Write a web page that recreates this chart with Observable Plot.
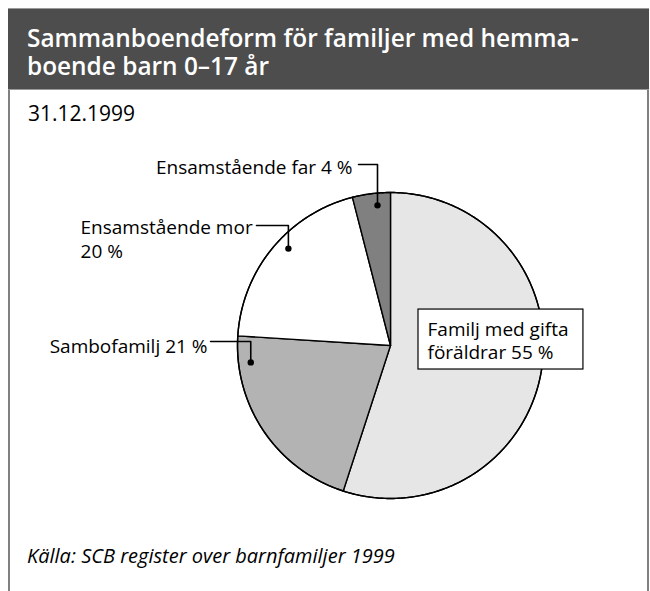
<!DOCTYPE html>
<html><head><meta charset="utf-8">
<script src="https://cdn.jsdelivr.net/npm/d3@7"></script>
<script src="https://cdn.jsdelivr.net/npm/@observablehq/plot@0.6"></script>
<style>
html,body{margin:0;padding:0;background:#fff;overflow:hidden;width:650px;height:591px;}
body{font-family:"Open Sans","Liberation Sans",Arial,sans-serif;color:#000;}
#frame{position:absolute;left:8px;top:8px;width:641px;height:620px;box-sizing:border-box;border-left:2px solid #808080;border-right:2px solid #808080;}
#bar{position:absolute;left:8px;top:8px;width:641px;height:82px;box-sizing:border-box;background:#4d4d4d;border-top:1px solid #9a9a9a;border-bottom:1px solid #9a9a9a;color:#fff;font-weight:600;font-size:24.4px;line-height:28px;padding:15px 0 0 19px;white-space:nowrap;}
#date{position:absolute;left:28px;top:101px;font-size:21px;line-height:24px;}
#chart{position:absolute;left:9px;top:89px;}
#caption{position:absolute;left:27px;top:545px;font-size:20px;line-height:22px;font-style:italic;}
</style></head>
<body>
<div id="frame"></div>
<div id="bar">Sammanboendeform för familjer med hemma-<br>boende barn 0–17 år</div>
<div id="date">31.12.1999</div>
<div id="chart"></div>
<div id="caption">Källa: SCB register over barnfamiljer 1999</div>
<script>
// Data
const categories = ["Familj med gifta föräldrar", "Sambofamilj", "Ensamstående mor", "Ensamstående far"];
const values = [55, 21, 20, 4];
const labels = ["Familj med gifta\nföräldrar 55 %", "Sambofamilj 21 %", "Ensamstående mor\n20 %", "Ensamstående far 4 %"];
const colors = ["#e6e6e6", "#b3b3b3", "#ffffff", "#808080"];

// Build slice outlines from pie angles (unit radius, y up)
const arcs = d3.pie().sort(null).value(d => d)(values);
const slicePts = [];
arcs.forEach((a, i) => {
  const cat = categories[i];
  slicePts.push({cat, x: 0, y: 0});
  const n = Math.max(4, Math.ceil((a.endAngle - a.startAngle) / 0.01));
  for (let k = 0; k <= n; k++) {
    const t = a.startAngle + (a.endAngle - a.startAngle) * k / n;
    slicePts.push({cat, x: Math.sin(t), y: Math.cos(t)});
  }
  slicePts.push({cat, x: 0, y: 0});
});
const circlePts = d3.range(0, 361).map(d => ({x: Math.sin(d * Math.PI / 180), y: Math.cos(d * Math.PI / 180)}));

// Callout annotations (in pie-radius units)
const callouts = [
  {i: 3, ang: 354.7, r: 0.92, elbowY: 1.183, startX: -0.209, tx: -0.248, ty: 1.124, anchor: "end"},
  {i: 2, ang: 313.5, r: 0.92, elbowY: 0.784, startX: -0.876, tx: -2.026, ty: 0.575, anchor: "start"},
  {i: 1, ang: 263.1, r: 0.92, elbowY: 0.026, startX: -1.176, tx: -1.196, ty: -0.052, anchor: "end"}
].map(c => {
  const a = c.ang * Math.PI / 180;
  return {...c, dx: c.r * Math.sin(a), dy: c.r * Math.cos(a), text: labels[c.i]};
});
const leaderPts = callouts.flatMap((c, k) => [
  {k, x: c.startX, y: c.elbowY},
  {k, x: c.dx, y: c.elbowY},
  {k, x: c.dx, y: c.dy}
]);
const box = [{x1: 0.183, x2: 1.261, y1: 0.235, y2: -0.157, tx: 0.242, ty: -0.085, text: labels[0]}];

const font = '"Open Sans", "Liberation Sans", Arial, sans-serif';
const plot = Plot.plot({
  width: 640, height: 440,
  margin: 0,
  x: {domain: [-1, 1], range: [228, 534], axis: null},
  y: {domain: [-1, 1], range: [409, 103], axis: null},
  color: {domain: categories, range: colors},
  style: {fontFamily: font, overflow: "visible"},
  marks: [
    Plot.line(slicePts, {x: "x", y: "y", z: "cat", fill: "cat", stroke: "#000", strokeWidth: 1.4, strokeLinejoin: "round", curve: "linear"}),
    Plot.line(circlePts, {x: "x", y: "y", stroke: "#000", strokeWidth: 1.4}),
    Plot.line(leaderPts, {x: "x", y: "y", z: "k", stroke: "#000", strokeWidth: 1.6}),
    Plot.dot(callouts, {x: "dx", y: "dy", r: 3.2, fill: "#000", stroke: null}),
    Plot.text(callouts.filter(c => c.anchor === "end"), {x: "tx", y: "ty", text: "text", textAnchor: "end", lineAnchor: "bottom", fontSize: 19, lineHeight: 1.263, fill: "#000"}),
    Plot.text(callouts.filter(c => c.anchor === "start"), {x: "tx", y: "ty", text: "text", textAnchor: "start", lineAnchor: "bottom", fontSize: 19, lineHeight: 1.263, fill: "#000"}),
    Plot.rect(box, {x1: "x1", x2: "x2", y1: "y1", y2: "y2", fill: "#fff", stroke: "#000", strokeWidth: 1.2}),
    Plot.text(box, {x: "tx", y: "ty", text: "text", textAnchor: "start", lineAnchor: "bottom", fontSize: 19, lineHeight: 1.2, fill: "#000"})
  ]
});
document.getElementById("chart").appendChild(plot);
</script>
</body></html>
